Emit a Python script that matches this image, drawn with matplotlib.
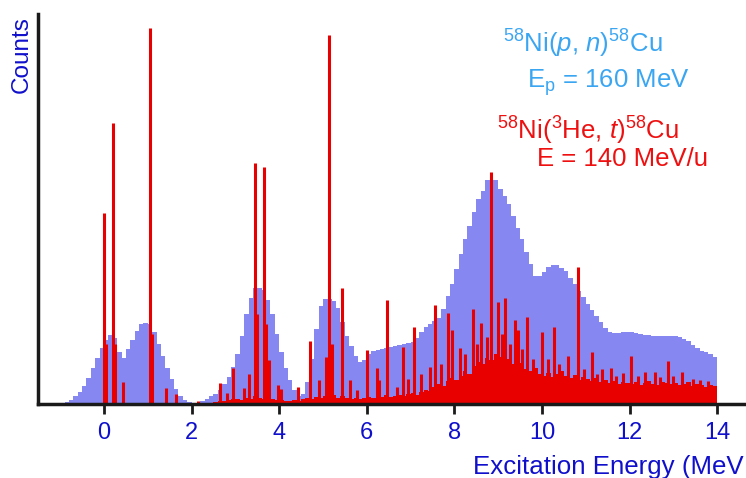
import numpy as np
import matplotlib
matplotlib.use("Agg")
import matplotlib.pyplot as plt

plt.rcParams['font.family'] = ['Liberation Sans', 'DejaVu Sans']
plt.rcParams['mathtext.fontset'] = 'custom'
plt.rcParams['mathtext.rm'] = 'Liberation Sans'
plt.rcParams['mathtext.it'] = 'Liberation Sans:italic'
plt.rcParams['mathtext.bf'] = 'Liberation Sans:bold'

# (p,n) spectrum, 0.1 MeV bins starting at -1.0 MeV
pn_start = -1.0
pn_width = 0.1
pn_counts = [
    1, 2, 4, 8, 12, 18, 26, 36, 46, 56,            # -1.0 .. -0.1
    64, 69, 66, 52, 46, 55, 64, 73, 80, 81,        # 0.0 .. 0.9
    80, 72, 60, 48, 36, 25, 15, 8, 4, 2,           # 1.0 .. 1.9
    1, 1, 3, 5, 8, 10, 14, 20, 27, 37,             # 2.0 .. 2.9
    50, 68, 90, 106, 116, 116, 114, 104, 90, 70,   # 3.0 .. 3.9
    52, 36, 24, 14, 8, 10, 22, 45, 75, 98,         # 4.0 .. 4.9
    105, 105, 103, 96, 82, 68, 58, 48, 42, 44,     # 5.0 .. 5.9
    50, 53, 54, 55, 56, 57, 58, 59, 60, 61,        # 6.0 .. 6.9
    62, 66, 72, 77, 80, 83, 86, 95, 108, 120,      # 7.0 .. 7.9
    135, 150, 165, 178, 192, 205, 213, 224, 224, 224,  # 8.0 .. 8.9
    215, 208, 200, 188, 176, 165, 152, 140, 128, 128,  # 9.0 .. 9.9
    132, 137, 139, 139, 136, 133, 126, 120, 113, 107,  # 10.0 .. 10.9
    100, 94, 88, 82, 76, 72, 71, 71, 72, 72,       # 11.0 .. 11.9
    72, 71, 70, 69, 69, 68, 68, 68, 68, 68,        # 12.0 .. 12.9
    68, 67, 65, 63, 59, 56, 53, 52, 50, 47,        # 13.0 .. 13.9
]

# (3He,t) continuum, 0.1 MeV bins starting at 2.5 MeV
he_start = 2.5
he_width = 0.1
he_cont = [
    2, 3, 3, 4, 5,
    5, 4, 6, 5, 8, 6, 5, 7, 5, 4,
    4, 3, 3, 4, 3, 5, 6, 5, 7, 6,
    8, 7, 9, 6, 8, 6, 5, 6, 5, 6,
    7, 6, 8, 7, 9, 7, 8, 9, 8, 10,
    11, 9, 12, 14, 13, 17, 20, 18, 23, 26,
    24, 28, 33, 30, 38, 42, 40, 46, 44, 50,
    47, 42, 45, 40, 38, 41, 35, 33, 36, 30,
    28, 31, 27, 30, 33, 28, 26, 29, 24, 27,
    25, 23, 26, 22, 24, 21, 23, 20, 22, 21,
    20, 22, 19, 21, 23, 20, 19, 22, 21, 20,
    21, 19, 20, 22, 18, 20, 19, 17, 19, 18,
]

# (3He,t) discrete peaks: energy (MeV), height
peak_E = [0.0, 0.05, 0.2, 0.24, 0.43, 1.05, 1.1, 1.42, 1.64, 2.15,
          2.65, 2.8, 2.94, 3.2, 3.3, 3.45, 3.5, 3.65, 3.7, 3.77,
          3.97, 4.04, 4.43, 4.7, 4.9, 5.07, 5.14, 5.2, 5.43, 5.62,
          5.77, 6.0, 6.23, 6.28, 6.46, 6.68, 6.82, 6.95, 7.08, 7.25,
          7.44, 7.56, 7.7, 7.86, 7.95, 8.13, 8.25, 8.42, 8.52, 8.61,
          8.74, 8.84, 9.0, 9.08, 9.16, 9.27, 9.38, 9.45, 9.55, 9.65,
          9.8, 10.0, 10.15, 10.27, 10.4, 10.6, 10.82, 10.95, 11.14, 11.25,
          11.37, 11.57, 11.7, 11.85, 12.03, 12.2, 12.35, 12.58, 12.7, 12.88,
          13.0, 13.2, 13.45, 13.6, 13.8]
peak_h = [191, 60, 281, 60, 22, 376, 70, 16, 10, 3,
          21, 11, 36, 16, 30, 241, 90, 237, 80, 44,
          19, 15, 17, 63, 24, 47, 369, 60, 116, 24,
          14, 54, 36, 24, 104, 17, 57, 25, 77, 30,
          37, 99, 40, 91, 74, 56, 50, 95, 60, 81,
          67, 232, 102, 70, 106, 60, 84, 74, 55, 87,
          45, 72, 45, 77, 40, 48, 137, 35, 52, 30,
          35, 36, 28, 31, 48, 28, 32, 32, 27, 43,
          28, 32, 25, 24, 23]

xticks = [0, 2, 4, 6, 8, 10, 12, 14]

W, H = 746, 478
fig = plt.figure(figsize=(W / 100, H / 100), dpi=100)
ax = fig.add_axes([38 / W, 1 - 404 / H, 1 - 38 / W, (404 - 14) / H])

blue_fill = '#8787f2'
red_fill = '#e80000'
pn_left = pn_start + pn_width * np.arange(len(pn_counts))
ax.bar(pn_left, pn_counts, width=pn_width, align='edge', color=blue_fill,
       lw=0, antialiased=False, zorder=1)

he_left = he_start + he_width * np.arange(len(he_cont))
ax.bar(he_left, he_cont, width=he_width, align='edge', color=red_fill,
       lw=0, antialiased=False, zorder=2)
ax.vlines(peak_E, 0, peak_h, color=red_fill, lw=2.2, zorder=3)

ax.set_xlim(-1.507, 14.66)
ax.set_ylim(0, 390)
ax.set_xticks(xticks)
ax.set_xticklabels([str(t) for t in xticks])
ax.set_yticks([])
for s in ['top', 'right']:
    ax.spines[s].set_visible(False)
for s in ['left', 'bottom']:
    ax.spines[s].set_linewidth(2.5)
    ax.spines[s].set_color('#1a1a1a')
    ax.spines[s].set_zorder(5)
ax.tick_params(axis='x', direction='out', length=7, width=2, color='#1a1a1a',
               labelsize=17, labelcolor='#1010cc', pad=6)

blue_txt = '#1010cc'
fig.text(22 / W, 1 - 55 / H, 'Counts', rotation=90, ha='center', va='center',
         fontsize=17.5, color=blue_txt)
# the reference crops the axis title at the right edge
fig.text(473 / W, 1 - 474 / H, 'Excitation Energy (MeV', ha='left', va='baseline',
         fontsize=18.6, color=blue_txt)

light = '#3aa6f2'
red = '#ee1010'
fig.text(503 / W, 1 - 53 / H, r'$^{58}$Ni($p$, $n$)$^{58}$Cu', ha='left', va='baseline',
         fontsize=18.5, color=light)
fig.text(527 / W, 1 - 88 / H, r'E$_{\mathrm{p}}$ = 160 MeV', ha='left', va='baseline',
         fontsize=18.5, color=light)
fig.text(497 / W, 1 - 140 / H, r'$^{58}$Ni($^{3}$He, $t$)$^{58}$Cu', ha='left', va='baseline',
         fontsize=18.5, color=red)
fig.text(537 / W, 1 - 166 / H, 'E = 140 MeV/u', ha='left', va='baseline',
         fontsize=18.5, color=red)

fig.savefig('out.png', dpi=100)
